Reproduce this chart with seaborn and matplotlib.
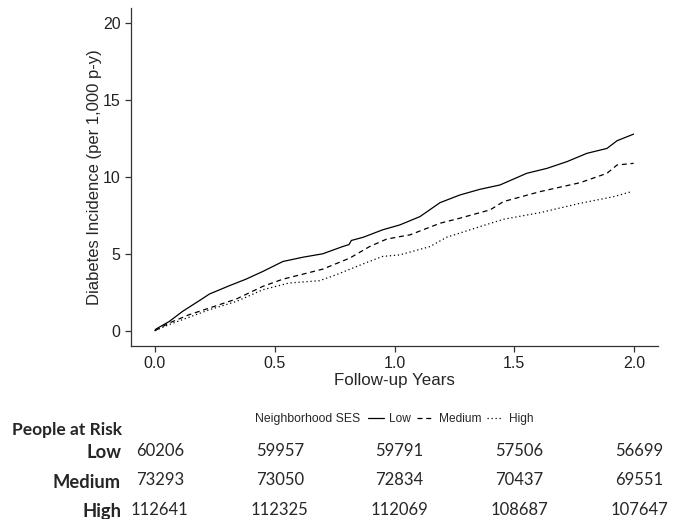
import matplotlib
matplotlib.use('Agg')
import matplotlib.pyplot as plt
import seaborn as sns
import pandas as pd

# cumulative diabetes incidence
low_t = [0, 0.004, 0.06, 0.115, 0.2, 0.227, 0.31, 0.38, 0.45, 0.534, 0.618, 0.70, 0.785, 0.81,
         0.82, 0.87, 0.95, 1.022, 1.106, 1.19, 1.273, 1.357, 1.44, 1.552, 1.636, 1.72, 1.803,
         1.887, 1.929, 1.998]
low_v = [0, 0.1, 0.6, 1.25, 2.1, 2.38, 2.92, 3.35, 3.85, 4.5, 4.78, 5.0, 5.48, 5.6,
         5.87, 6.08, 6.56, 6.88, 7.42, 8.33, 8.83, 9.2, 9.48, 10.24, 10.56, 11.0, 11.54,
         11.86, 12.36, 12.79]
med_t = [0, 0.06, 0.143, 0.227, 0.34, 0.45, 0.534, 0.70, 0.813, 0.897, 0.966, 1.022, 1.064,
         1.19, 1.273, 1.399, 1.455, 1.608, 1.775, 1.887, 1.929, 1.998]
med_v = [0, 0.5, 1.04, 1.47, 2.06, 2.88, 3.35, 4.0, 4.72, 5.48, 5.95, 6.12, 6.23,
         6.99, 7.32, 7.86, 8.4, 9.05, 9.63, 10.24, 10.78, 10.89]
high_t = [0, 0.06, 0.227, 0.34, 0.45, 0.56, 0.687, 0.757, 0.87, 0.95, 1.022, 1.148, 1.218,
          1.357, 1.455, 1.608, 1.775, 1.915, 1.99]
high_v = [0, 0.4, 1.36, 1.9, 2.66, 3.1, 3.25, 3.64, 4.35, 4.83, 4.93, 5.47, 6.08,
          6.77, 7.25, 7.68, 8.29, 8.72, 9.05]

groups = ['Low', 'Medium', 'High']
risk_times = [0.0, 0.5, 1.0, 1.5, 2.0]
risk_low = [60206, 59957, 59791, 57506, 56699]
risk_med = [73293, 73050, 72834, 70437, 69551]
risk_high = [112641, 112325, 112069, 108687, 107647]
x_ticks = [0.0, 0.5, 1.0, 1.5, 2.0]
y_ticks = [0, 5, 10, 15, 20]

df = pd.concat([
    pd.DataFrame({'t': low_t, 'v': low_v, 'ses': 'Low'}),
    pd.DataFrame({'t': med_t, 'v': med_v, 'ses': 'Medium'}),
    pd.DataFrame({'t': high_t, 'v': high_v, 'ses': 'High'}),
])

sns.set_style('ticks')
plt.rcParams['font.family'] = ['Liberation Sans', 'DejaVu Sans']

fig = plt.figure(figsize=(6.75, 5.19), dpi=100)
ax = fig.add_axes([131 / 675, 1 - 346 / 519, 527 / 675, 338 / 519])

sns.lineplot(data=df, x='t', y='v', style='ses', style_order=groups,
             dashes={'Low': '', 'Medium': (4, 3), 'High': (1, 2.2)},
             color='black', linewidth=0.9, ax=ax, sort=False, estimator=None)

ax.set_xlim(-0.1, 2.1)
ax.set_ylim(-1, 21)
ax.set_xticks(x_ticks)
ax.set_xticklabels([f'{x:.1f}' for x in x_ticks])
ax.set_yticks(y_ticks)
ax.tick_params(labelsize=11.5, length=4, width=0.9, direction='out',
               colors='#333333', labelcolor='#222222')
for lab in ax.get_xticklabels() + ax.get_yticklabels():
    lab.set_family(['Liberation Sans', 'DejaVu Sans'])
sns.despine(ax=ax)
for s in ['left', 'bottom']:
    ax.spines[s].set_linewidth(0.9)
    ax.spines[s].set_color('#333333')
ax.set_xlabel('Follow-up Years', fontsize=12.2, labelpad=1)
ax.set_ylabel('Diabetes Incidence (per 1,000 p-y)', fontsize=12, labelpad=0.5)

# legend in one row under the plot
handles, labels = ax.get_legend_handles_labels()
ax.get_legend().remove()
fig.text(255 / 675, 1 - 419 / 519, 'Neighborhood SES', fontsize=8.8, va='center', ha='left')
fig.legend(handles, labels, ncol=3, loc='center left', frameon=False, fontsize=8.6,
           bbox_to_anchor=(368 / 675, 1 - 419 / 519), bbox_transform=fig.transFigure,
           borderpad=0, borderaxespad=0, handlelength=1.3, handletextpad=0.5,
           columnspacing=0.5)

# people at risk table
tfont = ['Lato', 'DejaVu Sans']
fig.text(12 / 675, 1 - 430 / 519, 'People at Risk', fontsize=12.5, fontweight='bold',
         family=tfont, ha='left', va='center')
row_y = [451, 480, 510]
row_vals = [risk_low, risk_med, risk_high]
for g, yy, vals in zip(groups, row_y, row_vals):
    fig.text(121 / 675, 1 - (yy + 2) / 519, g, fontsize=13.2, fontweight='bold',
             family=tfont, ha='right', va='center')
    for t, n in zip(risk_times, vals):
        xf = fig.transFigure.inverted().transform(ax.transData.transform((t, 0)))[0]
        fig.text(xf + 5 / 675, 1 - yy / 519, str(n), fontsize=12, family=tfont,
                 ha='center', va='center')

fig.savefig('out.png', dpi=100)
